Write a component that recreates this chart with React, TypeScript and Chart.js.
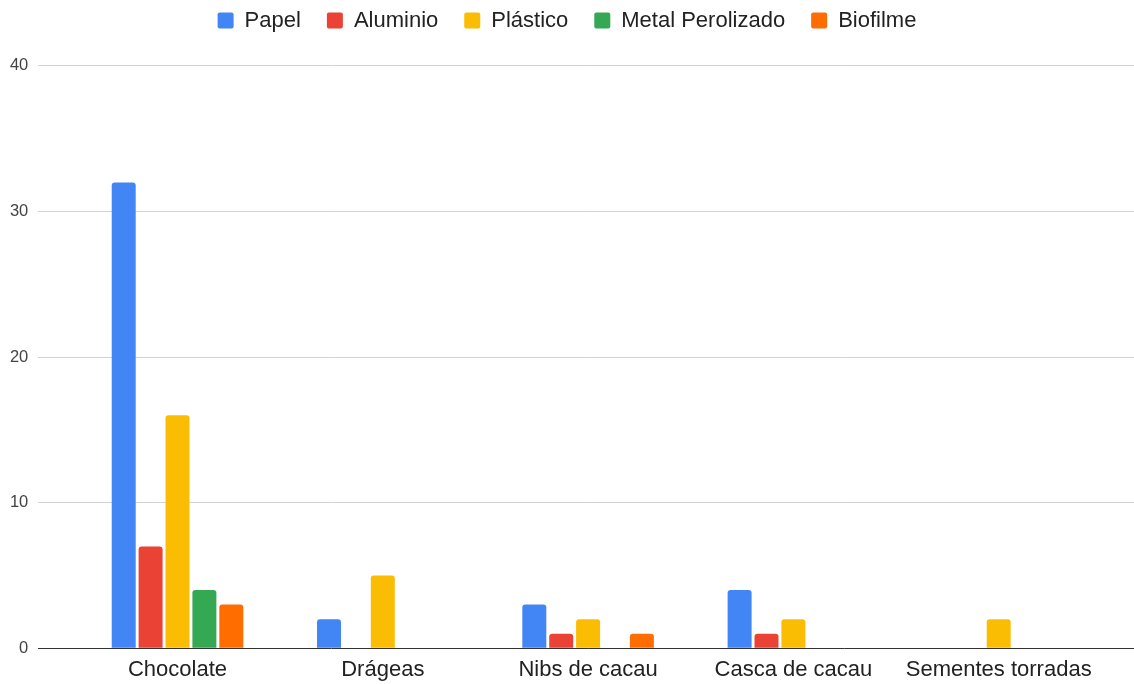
import React, { useEffect, useRef } from "react";
import { Chart, registerables } from "chart.js";

Chart.register(...registerables);

const categories = ["Chocolate", "Drágeas", "Nibs de cacau", "Casca de cacau", "Sementes torradas"];

const papel = [32, 2, 3, 4, 0];
const aluminio = [7, 0, 1, 1, 0];
const plastico = [16, 5, 2, 2, 2];
const metalPerolizado = [4, 0, 0, 0, 0];
const biofilme = [3, 0, 1, 0, 0];

const seriesNames = ["Papel", "Aluminio", "Plástico", "Metal Perolizado", "Biofilme"];
const seriesColors = ["#4285F4", "#EA4335", "#FBBC04", "#34A853", "#FF6D01"];

const yTicks = [0, 10, 20, 30, 40];

const FONT = "'Liberation Sans', Arial, sans-serif";
const GRID = "#d3d3d3";
const BASE = "#333333";

export default function App() {
  const canvasRef = useRef<HTMLCanvasElement | null>(null);

  useEffect(() => {
    const canvas = canvasRef.current;
    if (!canvas) return;
    const values = [papel, aluminio, plastico, metalPerolizado, biofilme];
    const lineColor = (ctx: any) => (ctx.tick && ctx.tick.value === 0 ? BASE : GRID);

    const chart = new Chart(canvas, {
      type: "bar",
      data: {
        labels: categories,
        datasets: seriesNames.map((name, i) => ({
          label: name,
          data: values[i],
          backgroundColor: seriesColors[i],
          borderWidth: 0,
          borderRadius: 3,
          borderSkipped: "start" as const,
          categoryPercentage: 0.655,
          barPercentage: 0.892,
        })),
      },
      options: {
        responsive: false,
        animation: false,
        layout: { padding: { top: -16.5, left: 0, right: 0, bottom: 0 } },
        plugins: {
          tooltip: { enabled: false },
          legend: {
            position: "top",
            align: "center",
            labels: {
              boxWidth: 16,
              boxHeight: 16,
              padding: 26,
              useBorderRadius: true,
              borderRadius: 2,
              color: "#222222",
              font: { family: FONT, size: 22 },
            },
          },
          // empty spacer between the legend and the plot area
          title: {
            display: true,
            text: "",
            position: "top",
            weight: 500,
            padding: 0,
            font: { family: FONT, size: 12, lineHeight: 24.4 / 12 },
          } as any,
        },
        scales: {
          x: {
            grid: { display: false, drawTicks: false },
            border: { display: false },
            ticks: {
              color: "#222222",
              font: { family: FONT, size: 22 },
              padding: 8.8,
              maxRotation: 0,
              autoSkip: false,
            },
            afterFit: (scale: any) => {
              scale.height = 35.7;
            },
          },
          y: {
            position: "left",
            min: 0,
            max: 40,
            afterBuildTicks: (scale: any) => {
              scale.ticks = yTicks.map((v) => ({ value: v }));
            },
            grid: {
              color: lineColor,
              lineWidth: 1,
              drawTicks: true,
              tickLength: 36.85,
              tickColor: lineColor,
            },
            border: { display: false },
            ticks: {
              color: "#444444",
              font: { family: FONT, size: 16.5 },
              padding: 9.7,
            },
            afterFit: (scale: any) => {
              scale.width = 74.85;
            },
          },
          yRight: {
            position: "right",
            min: 0,
            max: 40,
            afterBuildTicks: (scale: any) => {
              scale.ticks = yTicks.map((v) => ({ value: v }));
            },
            grid: {
              drawOnChartArea: false,
              drawTicks: true,
              tickLength: 32.65,
              tickColor: lineColor,
              lineWidth: 1,
            },
            border: { display: false },
            ticks: { display: false },
            afterFit: (scale: any) => {
              scale.width = 32.65;
            },
          },
        },
      },
    });

    return () => chart.destroy();
  }, []);

  return (
    <div style={{ position: "fixed", left: 0, top: 0, width: 1134, height: 684, background: "#ffffff" }}>
      <canvas ref={canvasRef} width={1134} height={684} style={{ display: "block" }} />
    </div>
  );
}
